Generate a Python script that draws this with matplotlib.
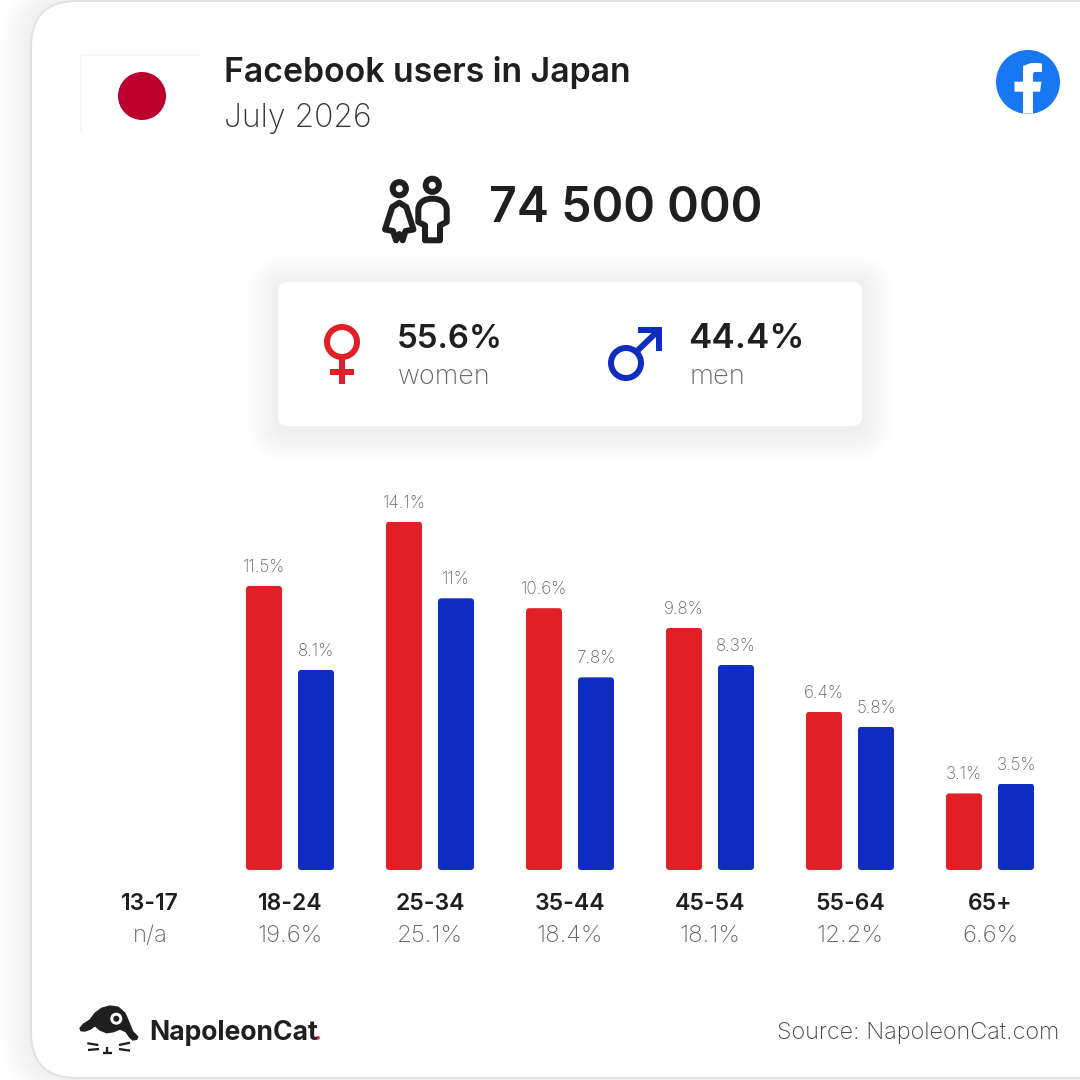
import matplotlib
matplotlib.use("Agg")
import matplotlib.pyplot as plt
from matplotlib.patches import Circle, FancyBboxPatch, PathPatch, Polygon
from matplotlib.path import Path

age_groups = ["13-17", "18-24", "25-34", "35-44", "45-54", "55-64", "65+"]
age_totals = ["n/a", "19.6%", "25.1%", "18.4%", "18.1%", "12.2%", "6.6%"]
women_pct = [None, 11.5, 14.1, 10.6, 9.8, 6.4, 3.1]
men_pct = [None, 8.1, 11, 7.8, 8.3, 5.8, 3.5]

RED = "#E01F26"
BLUE = "#0F2DC1"
DARK = "#1F1F1F"
GREY = "#666666"
FONT = "Inter"
PX = 0.72  # font px -> pt at dpi 100


def txt(x, y, s, size, color=DARK, weight="normal", ha="left"):
    bg.text(x, y, s, fontsize=size * PX, color=color, fontweight=weight,
            ha=ha, va="baseline", family=FONT)


def rbox(x0, y0, x1, y1, r, **kw):
    p = FancyBboxPatch((x0, y0), x1 - x0, y1 - y0,
                       boxstyle=f"round,pad=0,rounding_size={r}", **kw)
    bg.add_patch(p)
    return p


def line(xs, ys, color, lw, cap="butt"):
    bg.plot(xs, ys, color=color, lw=lw * PX, solid_capstyle=cap, solid_joinstyle="round")


fig = plt.figure(figsize=(10.8, 10.8), dpi=100, facecolor="white")
bg = fig.add_axes([0, 0, 1, 1])
bg.set_xlim(0, 1080)
bg.set_ylim(1080, 0)
bg.axis("off")

# card with soft shadow
for k in range(16, 0, -1):
    rbox(31 - k * 2, 1 - k, 1200, 1078 + k, 46 + k, fc="black", ec="none", alpha=0.002)
rbox(31, 1, 1200, 1078, 46, fc="white", ec="#E2E2E2", lw=2 * PX)

# flag
line([80.5, 80.5], [133, 54.5], "#F3F3F3", 1.5)
line([80.5, 200], [54.5, 54.5], "#F3F3F3", 1.5)
bg.add_patch(Circle((142, 96), 24, fc="#BC002D", ec="none"))

txt(224, 82, "Facebook users in Japan", 33.8, weight="semibold")
txt(224, 127, "July 2026", 32, color="#333333", weight="light")

# facebook logo
bg.add_patch(Circle((1028, 82), 32, fc="#1877F2", ec="none"))
f_verts = [(1023, 113.6), (1023, 91.7), (1014.5, 91.7), (1014.5, 81.7), (1023, 81.7),
           (1023, 74), (1023, 66), (1031, 63), (1037, 63), (1042, 63.5), (1042, 72),
           (1038, 72), (1034, 72), (1033, 74), (1033, 77), (1033, 81.7), (1041.5, 81.7),
           (1040, 91.7), (1033, 91.7), (1033, 113.6)]
bg.add_patch(Polygon(f_verts, fc="white", ec="none"))

# people icon
for cx, cy in [(399.3, 188.7), (432.3, 185.3)]:
    bg.add_patch(Circle((cx, cy), 6.6, fc="none", ec=DARK, lw=6 * PX))
woman = [(399.3, 202.7), (392.3, 207), (385, 229.5), (393, 231), (396, 240.3), (399.3, 234),
         (402.7, 240.3), (405.5, 231), (413.5, 229.5), (406.3, 207)]
bg.add_patch(Polygon(woman, fc="none", ec=DARK, lw=6 * PX, joinstyle="round"))
man_path = Path([(425, 240.3), (425, 225.3), (418.3, 222), (418.3, 210.3),
                 (418.3, 202), (425, 198.7), (432.3, 198.7),
                 (440, 198.7), (446.7, 202), (446.7, 210.3),
                 (446.7, 222), (440, 225.3), (440, 240.3), (425, 240.3)],
                [Path.MOVETO, Path.LINETO, Path.LINETO, Path.LINETO,
                 Path.CURVE4, Path.CURVE4, Path.CURVE4,
                 Path.CURVE4, Path.CURVE4, Path.CURVE4,
                 Path.LINETO, Path.LINETO, Path.LINETO, Path.CLOSEPOLY])
bg.add_patch(PathPatch(man_path, fc="none", ec=DARK, lw=6 * PX, joinstyle="round"))

txt(489, 222, "74 500 000", 48.3, weight="semibold")

# gender panel
for k in range(16, 0, -1):
    rbox(278 - k * 2, 282 - k * 2 + 4, 862 + k * 2, 426 + k * 2 + 4, 10 + k * 2,
         fc="black", ec="none", alpha=0.002)
rbox(278, 282, 862, 426, 10, fc="white", ec="none")

bg.add_patch(Circle((342, 342), 15, fc="none", ec=RED, lw=6 * PX))
line([342, 342], [359, 384], RED, 6)
line([330, 354], [372, 372], RED, 6)
txt(397, 347.5, "55.6%", 33, weight="semibold")
txt(398, 384, "women", 27, color=GREY, weight="light")

bg.add_patch(Circle((626, 363), 15, fc="none", ec=BLUE, lw=6 * PX))
line([636, 659], [352, 330], BLUE, 6)
bg.add_patch(Polygon([(638, 327), (662, 327), (662, 351), (656, 351), (656, 333), (638, 333)],
                     fc=BLUE, ec="none"))
txt(688, 347.5, "44.4%", 35, weight="semibold")
txt(690, 384, "men", 27.5, color=GREY, weight="light")

# bars: index 0 sits at px 150, groups 140 px apart, baseline at px 870, 1% = 24.7 px
ax = fig.add_axes([80 / 1080, (1080 - 870) / 1080, 980 / 1080, 390 / 1080])
ax.patch.set_alpha(0)
ax.set_xlim(-0.5, 6.5)
ax.set_ylim(0, 390 / 24.7)
ax.axis("off")

bar_w = 36 / 140
offset = 26 / 140
for series, sign, colour in [(women_pct, -1, RED), (men_pct, 1, BLUE)]:
    for i, v in enumerate(series):
        if v is None:
            continue
        bar = ax.bar(i + sign * offset, v, bar_w, color=colour)[0]
        clip = FancyBboxPatch((bar.get_x(), 0), bar_w, v,
                              boxstyle=f"round,pad=0,rounding_size={3.5 / 140}",
                              mutation_aspect=140 / 24.7, transform=ax.transData)
        bar.set_clip_path(clip)
        ax.annotate(f"{v:g}%", (i + sign * offset, v), xytext=(0, 14 * PX),
                    textcoords="offset points", ha="center", va="baseline",
                    fontsize=17 * PX, color=GREY, fontweight="light", family=FONT)

for i, (label, total) in enumerate(zip(age_groups, age_totals)):
    x = 150 + 140 * i
    txt(x, 910, label, 23, weight="semibold", ha="center")
    txt(x, 942, total, 24, color=GREY, weight="light", ha="center")

# NapoleonCat logo
cat = [(80, 1028.3), (83.3, 1024.3), (90, 1020), (95, 1013.3), (101.7, 1008.3), (110, 1006),
       (118.3, 1007.3), (125, 1013.3), (129.3, 1023.3), (132.7, 1031.7), (137.7, 1036.7),
       (136.7, 1039.3), (132.7, 1040), (129.3, 1036.7), (126, 1031.7), (120, 1029),
       (113.3, 1031.7), (106.7, 1032.7), (100, 1030), (95, 1025.7), (90, 1029.3),
       (85, 1031), (81, 1030.7)]
bg.add_patch(Polygon(cat, fc=DARK, ec=DARK, lw=1, joinstyle="round"))
bg.add_patch(Circle((116.3, 1018.7), 6, fc="white", ec="none"))
bg.add_patch(Circle((116.3, 1018.7), 3, fc=DARK, ec="none"))
line([87.3, 98.3], [1043.3, 1045], DARK, 2.3)
line([88, 99], [1050, 1049], DARK, 2.3)
line([119, 130], [1045, 1042.7], DARK, 2.3)
line([119, 130], [1049, 1050.7], DARK, 2.3)
line([107.3, 107.3], [1047, 1053], DARK, 2.3)
line([103, 111.7], [1053, 1053], DARK, 2.3)

txt(149, 1040, "NapoleonCat", 26.5, weight="bold")
bg.add_patch(Circle((318, 1037.8), 1.8, fc=RED, ec="none"))
txt(1059, 1039, "Source: NapoleonCat.com", 23.4, color="#444444", weight="light", ha="right")

fig.savefig("out.png", dpi=100)
